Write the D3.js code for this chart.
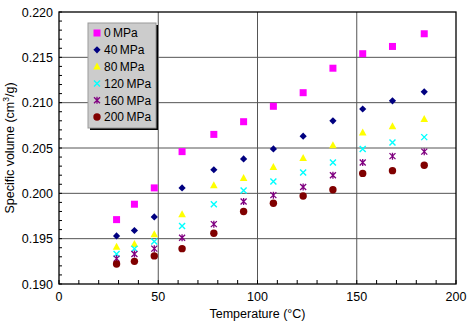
<!DOCTYPE html>
<html>
<head>
<meta charset="utf-8">
<script src="https://cdn.jsdelivr.net/npm/d3@7"></script>
<style>
  body { margin: 0; background: #fff; }
  svg { display: block; font-family: Arial, "Liberation Sans", sans-serif; }
</style>
</head>
<body>
<svg id="chart" width="470" height="322"></svg>
<script>

// ---- data ------------------------------------------------------------------

var temps = [29, 38, 48, 62, 78, 93, 108, 123, 138, 153, 168, 184];

var v0   = [0.1971, 0.1988, 0.2006, 0.2046, 0.2065, 0.2079, 0.2096, 0.2111, 0.2138, 0.2154, 0.2162, 0.2176];
var v40  = [0.1953, 0.1959, 0.1974, 0.2006, 0.2026, 0.2038, 0.2049, 0.2063, 0.2080, 0.2093, 0.2102, 0.2112];
var v80  = [0.1941, 0.1944, 0.1955, 0.1977, 0.2009, 0.2017, 0.2029, 0.2039, 0.2053, 0.2067, 0.2074, 0.2082];
var v120 = [0.1933, 0.1939, 0.1947, 0.1964, 0.1988, 0.2003, 0.2013, 0.2023, 0.2034, 0.2049, 0.2056, 0.2062];
var v160 = [0.1928, 0.1933, 0.1939, 0.1951, 0.1966, 0.1991, 0.1998, 0.2007, 0.2020, 0.2034, 0.2041, 0.2046];
var v200 = [0.1922, 0.1925, 0.1931, 0.1939, 0.1956, 0.1980, 0.1989, 0.1997, 0.2004, 0.2022, 0.2025, 0.2031];

var seriesNames = ["0\u2009MPa", "40\u2009MPa", "80\u2009MPa", "120\u2009MPa", "160\u2009MPa", "200\u2009MPa"];
var seriesValues = [v0, v40, v80, v120, v160, v200];

var xTicks = [0, 50, 100, 150, 200];
var yTicks = [0.190, 0.195, 0.200, 0.205, 0.210, 0.215, 0.220];

// ---- setup -----------------------------------------------------------------

var m = [12, 14, 38, 59],   // top right bottom left
    width = 470,
    height = 322;

var svg = d3.select("#chart");

var xScale = d3.scaleLinear().domain([0, 200]).range([m[3], width - m[1]]);
var yScale = d3.scaleLinear().domain([0.190, 0.220]).range([height - m[2], m[0]]);

var styles = [
	{shape: "square",   fill: "#ff00ff"},
	{shape: "diamond",  fill: "#000080"},
	{shape: "triangle", fill: "#ffff00"},
	{shape: "cross",    fill: "#00ffff"},
	{shape: "star",     fill: "#800080"},
	{shape: "circle",   fill: "#800000"}
];

// marker drawn centred on (0,0)
function marker(g, st) {
	if (st.shape == "square") {
		g.append("rect").attr("x", -3.5).attr("y", -3.5).attr("width", 7).attr("height", 7).attr("fill", st.fill);
	} else if (st.shape == "diamond") {
		g.append("path").attr("d", "M0 -3.6 L3.6 0 L0 3.6 L-3.6 0 Z").attr("fill", st.fill);
	} else if (st.shape == "triangle") {
		g.append("path").attr("d", "M0 -4 L3.8 3 L-3.8 3 Z").attr("fill", st.fill);
	} else if (st.shape == "cross") {
		g.append("path").attr("d", "M-3 -3 L3 3 M3 -3 L-3 3").attr("stroke", st.fill).attr("stroke-width", 1.4).attr("fill", "none");
	} else if (st.shape == "star") {
		g.append("path").attr("d", "M-3 -3 L3 3 M3 -3 L-3 3 M0 -3.5 L0 3.5").attr("stroke", st.fill).attr("stroke-width", 1.3).attr("fill", "none");
	} else {
		g.append("circle").attr("r", 3.7).attr("fill", st.fill);
	}
}

// ---- grid + frame ----------------------------------------------------------

var x0 = xScale.range()[0], x1 = xScale.range()[1],
	y0 = yScale.range()[1], y1 = yScale.range()[0];

svg.append("g").selectAll("line")
	.data(yTicks.slice(1, -1))
	.enter()
	.append("line")
	.attr("x1", x0).attr("x2", x1)
	.attr("y1", d => yScale(d)).attr("y2", d => yScale(d))
	.attr("stroke", "#555").attr("stroke-width", 1);

svg.append("g").selectAll("line")
	.data(xTicks.slice(1, -1))
	.enter()
	.append("line")
	.attr("x1", d => xScale(d)).attr("x2", d => xScale(d))
	.attr("y1", y0).attr("y2", y1)
	.attr("stroke", "#555").attr("stroke-width", 1);

// minor ticks, pointing into the plot
svg.append("g").selectAll("line")
	.data(d3.range(0.190, 0.2201, 0.001))
	.enter()
	.append("line")
	.attr("x1", x0).attr("x2", x0 + 3)
	.attr("y1", d => yScale(d)).attr("y2", d => yScale(d))
	.attr("stroke", "#000");

svg.append("g").selectAll("line")
	.data(d3.range(0, 201, 10))
	.enter()
	.append("line")
	.attr("x1", d => xScale(d)).attr("x2", d => xScale(d))
	.attr("y1", y1).attr("y2", y1 - 4)
	.attr("stroke", "#000");

svg.append("rect")
	.attr("x", x0).attr("y", y0)
	.attr("width", x1 - x0).attr("height", y1 - y0)
	.attr("fill", "none")
	.attr("stroke", "#000")
	.attr("stroke-width", 1.3);

// ---- tick labels -----------------------------------------------------------

svg.append("g").selectAll("text")
	.data(yTicks)
	.enter()
	.append("text")
	.attr("x", x0 - 6)
	.attr("y", d => yScale(d))
	.attr("dy", "0.36em")
	.attr("text-anchor", "end")
	.attr("font-size", 12.5)
	.text(d => d3.format(".3f")(d));

svg.append("g").selectAll("text")
	.data(xTicks)
	.enter()
	.append("text")
	.attr("x", d => xScale(d))
	.attr("y", y1 + 17)
	.attr("text-anchor", "middle")
	.attr("font-size", 12.5)
	.text(d => d);

svg.append("text")
	.attr("x", (x0 + x1) / 2)
	.attr("y", y1 + 34)
	.attr("text-anchor", "middle")
	.attr("font-size", 12.5)
	.text("Temperature (\u00b0C)");

var yl = svg.append("text")
	.attr("transform", `translate(14, ${(y0 + y1) / 2}) rotate(-90)`)
	.attr("text-anchor", "middle")
	.attr("font-size", 12.5);
yl.append("tspan").text("Specific volume (cm");
yl.append("tspan").attr("dy", -5).attr("font-size", 8.5).text("3");
yl.append("tspan").attr("dy", 5).text("/g)");

// ---- points ----------------------------------------------------------------

seriesValues.forEach(function(vals, i) {
	svg.append("g").selectAll("g")
		.data(vals)
		.enter()
		.append("g")
		.attr("transform", (d, j) => `translate(${xScale(temps[j])},${yScale(d)})`)
		.each(function() { marker(d3.select(this), styles[i]); });
});

// ---- legend ----------------------------------------------------------------

var lg = svg.append("g").attr("transform", "translate(88,23)");
lg.append("rect").attr("x", 2).attr("y", 2).attr("width", 68).attr("height", 105).attr("fill", "#000");
lg.append("rect").attr("x", 0).attr("y", 0).attr("width", 68).attr("height", 105)
	.attr("fill", "#cccccc").attr("stroke", "#999").attr("stroke-width", 1);

seriesNames.forEach(function(name, i) {
	var row = lg.append("g").attr("transform", `translate(0, ${10 + i * 16.8})`);
	marker(row.append("g").attr("transform", "translate(9,0)"), styles[i]);
	row.append("text")
		.attr("x", 16)
		.attr("dy", "0.36em")
		.attr("font-size", 12)
		.text(name);
});

</script>
</body>
</html>
